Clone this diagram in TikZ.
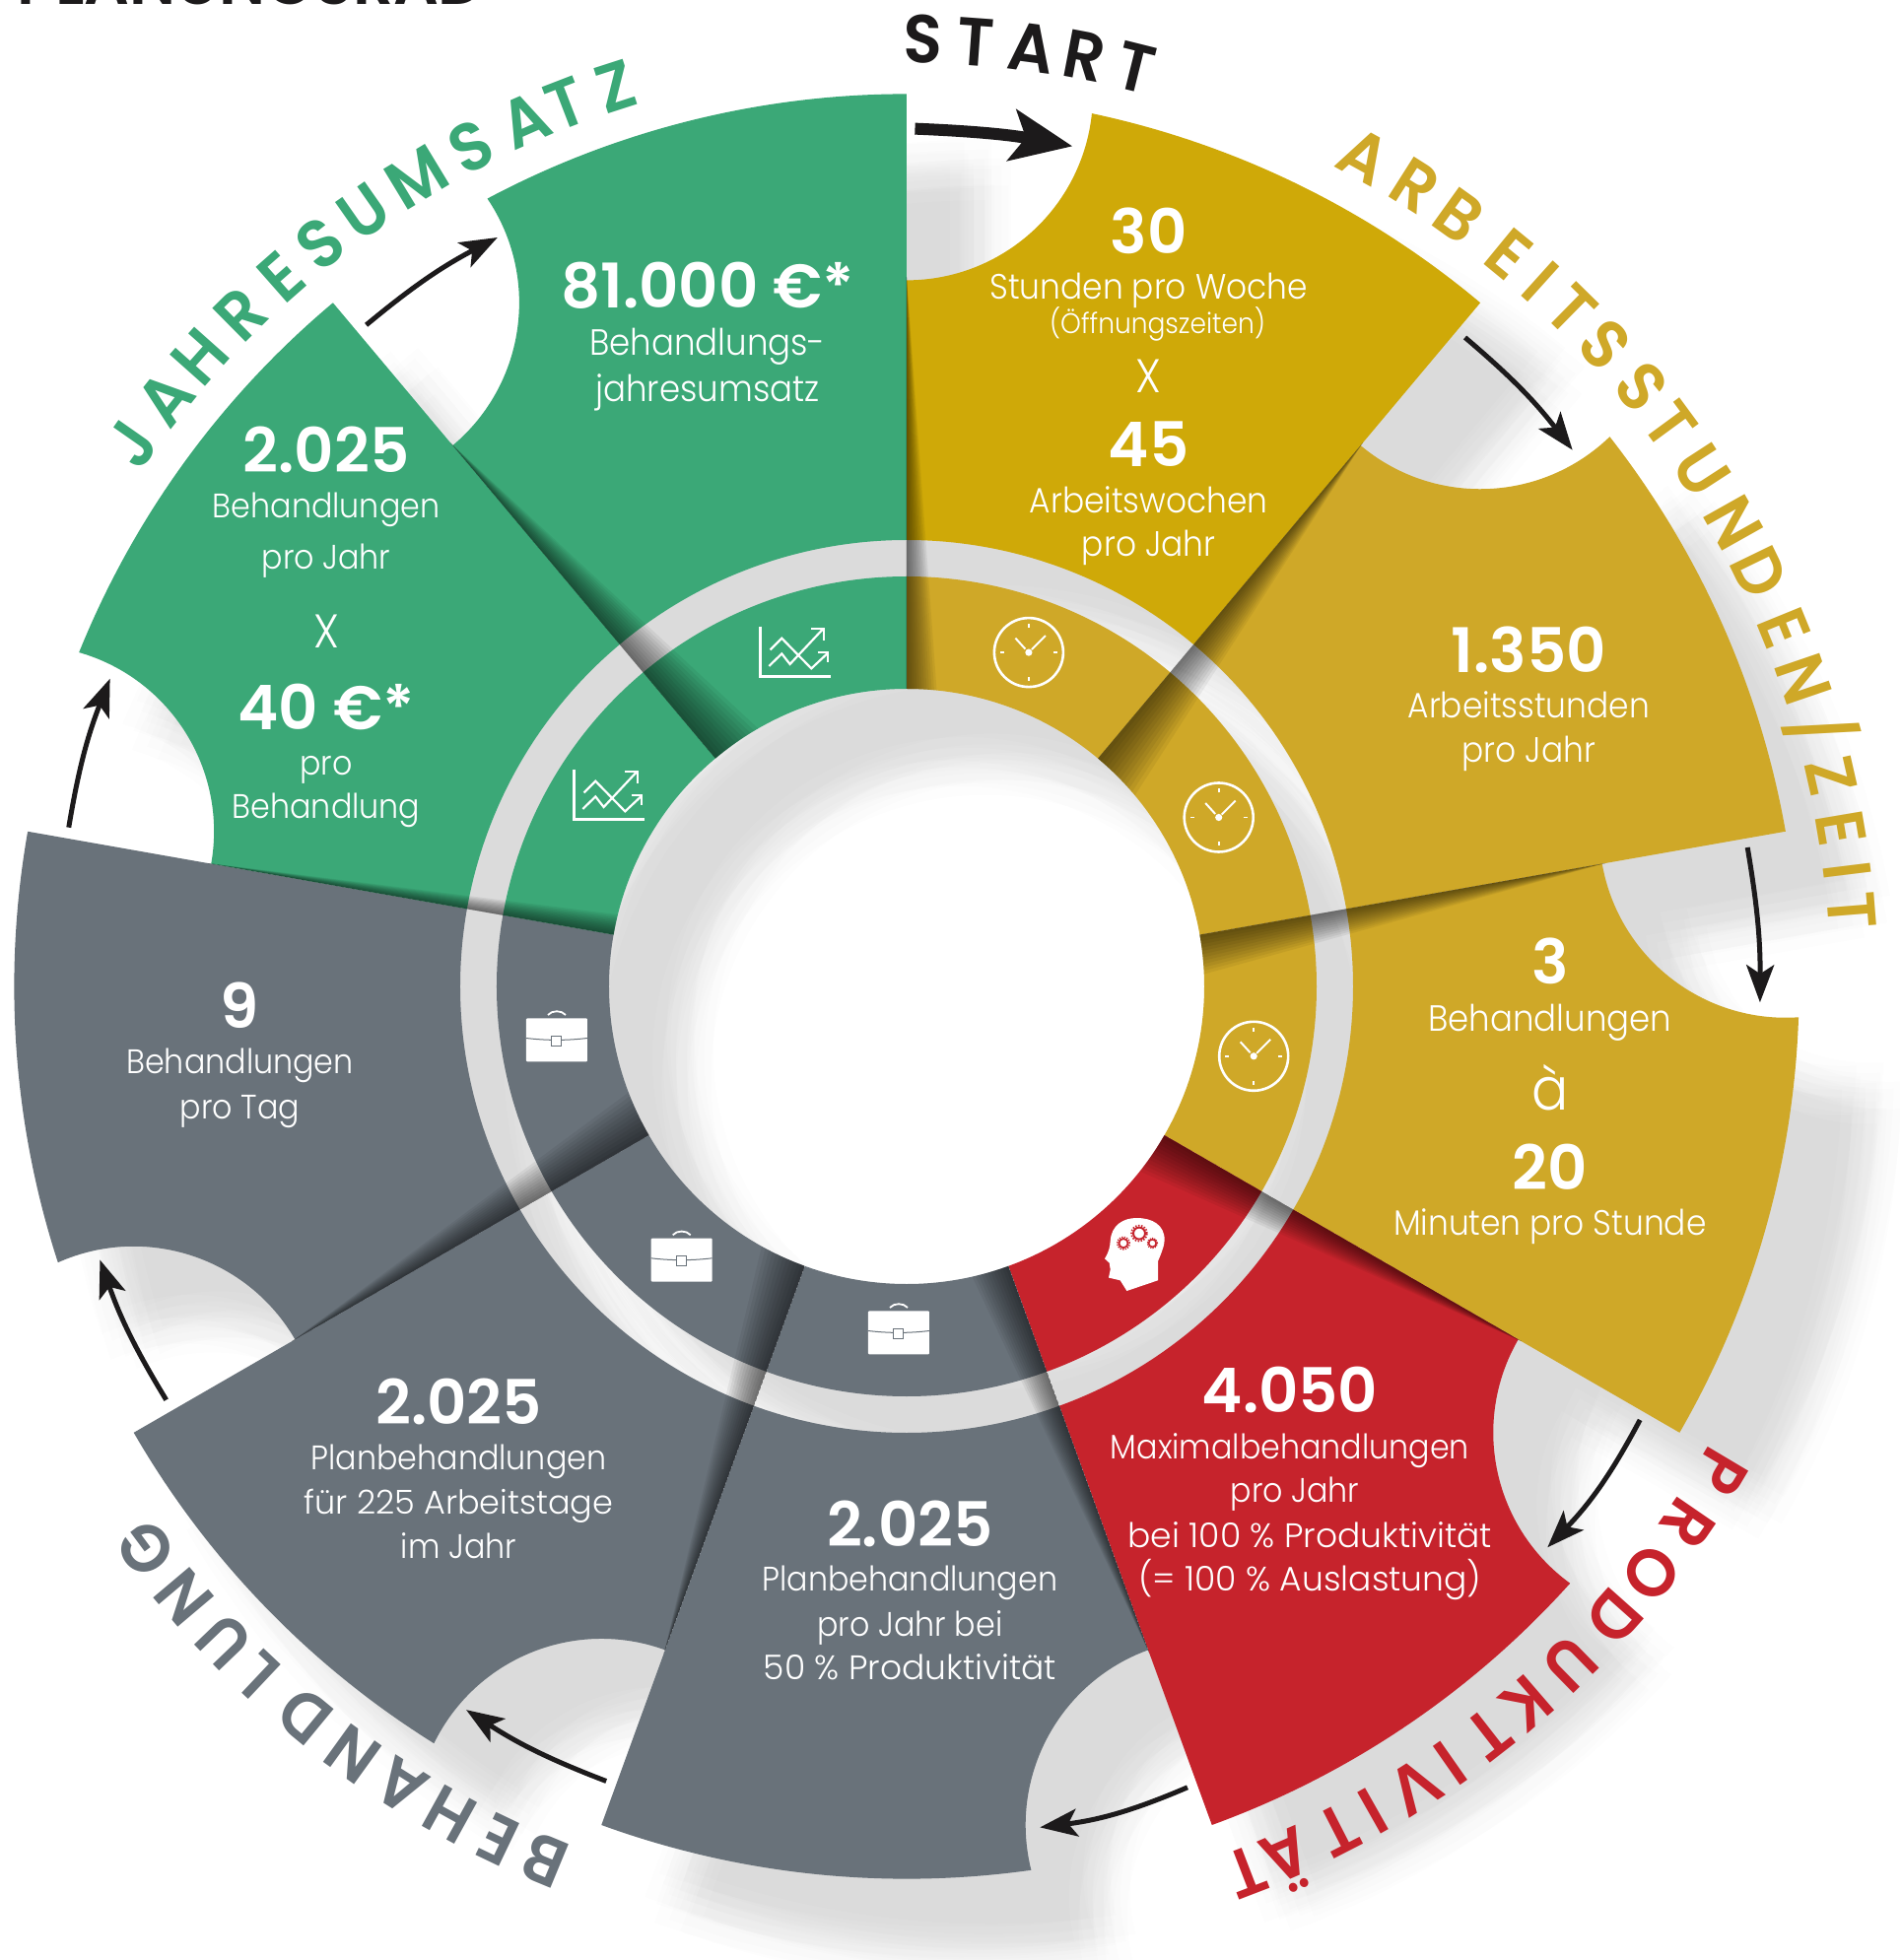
\documentclass[tikz,border=0pt]{standalone}
\usepackage{fontspec}
\usetikzlibrary{arrows.meta}
\newfontfamily\lightf[FakeStretch=0.92]{Poppins Light}
\newfontfamily\lightw{Poppins Light}
\newfontfamily\boldf{Poppins SemiBold}
\newfontfamily\arcf[FakeStretch=0.94]{Poppins SemiBold}
\definecolor{goldA}{HTML}{CFA908}
\definecolor{goldB}{HTML}{CFA828}
\definecolor{redS}{HTML}{C6232C}
\definecolor{greyS}{HTML}{69727A}
\definecolor{greenS}{HTML}{3BA877}
\definecolor{inkS}{HTML}{1C1A1B}
\newcommand\outerseg[1]{(#1:453) -- (#1:716.6) arc[start angle=#1+180,end angle=#1+270-5.99,radius=189] arc[start angle=#1-11.98,end angle=#1-40,radius=905.6] -- (#1-40:453) arc[start angle=#1-40,end angle=#1,radius=453] -- cycle}
\newcommand\innerseg[1]{(#1:302) -- (#1:416) arc[start angle=#1,end angle=#1-40,radius=416] -- (#1-40:302) arc[start angle=#1-40,end angle=#1,radius=302] -- cycle}
\newcommand\allsegs{\outerseg{90} \outerseg{50} \outerseg{10} \outerseg{-30} \outerseg{-70} \outerseg{-110} \outerseg{-150} \outerseg{170} \outerseg{130} \innerseg{90} \innerseg{50} \innerseg{10} \innerseg{-30} \innerseg{-70} \innerseg{-110} \innerseg{-150} \innerseg{170} \innerseg{130}}
\tikzset{
 px/.style={x=1.2684pt,y=-1.2684pt,shift={(-920pt,1001pt)}},
 wtext/.style={text=white,anchor=base,inner sep=0pt},
 num/.style={wtext,font=\boldf\fontsize{62.5}{62.5}\selectfont},
 lbl/.style={wtext,font=\lightf\fontsize{34.5}{34.5}\selectfont},
 lblm/.style={wtext,font=\lightf\fontsize{35.7}{35.7}\selectfont},
 lbll/.style={wtext,font=\lightf\fontsize{37}{37}\selectfont},
 lblw/.style={wtext,font=\lightw\fontsize{34.5}{34.5}\selectfont},
 lbln/.style={wtext,font=\lightw\fontsize{33.5}{33.5}\selectfont},
 small/.style={wtext,font=\lightf\fontsize{28.8}{28.8}\selectfont},
 big/.style={wtext,font=\lightf\fontsize{48}{48}\selectfont},
 bigger/.style={wtext,font=\lightf\fontsize{60}{60}\selectfont},
 arclbl/.style={font=\arcf\fontsize{69}{69}\selectfont,inner sep=0pt,text height=48pt,text depth=0pt,anchor=center},
 flow/.style={draw=inkS,line width=5pt,-{Stealth[length=38pt,width=28pt,inset=9pt]}},
 startflow/.style={draw=inkS,line width=12pt,-{Stealth[length=62pt,width=52pt,inset=14pt]}},
 clockicon/.pic={
  \draw[white,line width=2.6pt] (0,0) circle[radius=35];
  \fill[white] (0,0) circle[radius=3.6];
  \draw[white,line width=2pt] (3,3)--(17,17) (-3.5,3.5)--(-13.5,14.5);
  \draw[white,line width=1.6pt] (0,25)--(0,29) (0,-25)--(0,-29) (25,0)--(29,0) (-25,0)--(-29,0);
 },
 charticon/.pic={
  \draw[white,line width=3pt] (-35.7,26)--(-35.7,-25)--(36,-25);
  \draw[white,line width=2.2pt] (-25.7,2.3)--(-14,14)--(16,-16.7)--(32,-1.7);
  \draw[white,line width=2.2pt] (22.7,0)--(32.7,0)--(32.7,-10);
  \draw[white,line width=2.2pt] (-27,-14.3)--(-14,-1.7)--(-5.7,-12.3)--(27.7,23.3);
  \draw[white,line width=2.2pt] (16,23.3)--(28.7,23.3)--(28.7,11.7);
 },
 briefcon/.pic={
  \fill[white,rounded corners=1pt] (-31,-22.3) rectangle (31,21.7);
  \draw[white,line width=1.8pt] (-9,25) .. controls (-5,30) and (5,30) .. (9,25);
  \draw[greyS,line width=1pt] (-31,1.5) .. controls (-10,-1) and (10,-1) .. (31,1.5);
  \draw[greyS,fill=white,line width=1pt] (-5,-6) rectangle (5,3.5);
 },
 headicon/.pic={
  \fill[white] (-8.3,-36.7) -- (23.3,-26) -- (23.3,-6.7) .. controls (27,2) and (30,10) .. (30,15) .. controls (30,30) and (18,37.3) .. (1.7,37.3) .. controls (-12,37.3) and (-24,30) .. (-25,14) .. controls (-25.5,8) and (-26,4) .. (-30.7,-4) -- (-26,-8.3) -- (-25,-15) -- (-26.7,-23.3) -- (-15,-26) -- cycle;
  \draw[redS,line width=2pt] (4.3,21.7) circle[radius=6];
  \draw[redS,line width=1.6pt,dash pattern=on 1.5pt off 1.5pt] (4.3,21.7) circle[radius=8];
  \draw[redS,line width=1.8pt] (-11.7,11.7) circle[radius=4.6];
  \draw[redS,line width=1.4pt,dash pattern=on 1.3pt off 1.3pt] (-11.7,11.7) circle[radius=6.3];
  \draw[redS,line width=1.6pt] (17.7,11.7) circle[radius=3.8];
  \draw[redS,line width=1.2pt,dash pattern=on 1.2pt off 1.2pt] (17.7,11.7) circle[radius=5.2];
 },
}
\begin{document}
\begin{tikzpicture}[x=1pt,y=1pt]
\useasboundingbox (-920,-988) rectangle (1008,1001);
\clip (-920,-988) rectangle (1008,1001);
\fill[white] (-920,-988) rectangle (1008,1001);
% cropped title at the page top
\node[font=\boldf\fontsize{64}{64}\selectfont,text=inkS,anchor=base west,inner sep=0pt] (title) at (-903,996) {PLANUNGSRAD};
% soft cast shadow of the whole wheel
\foreach \r/\n/\o in {10/5/0,21/6/10,32/7/20}{
 \foreach \k in {1,...,\n}{
  \begin{scope}[shift={({76+\r*cos(\o+360*\k/\n)},{-76+\r*sin(\o+360*\k/\n)})}]
   \fill[black,fill opacity=.0072] \allsegs;
  \end{scope}
 }
}
% segments
\foreach \a/\c/\d in {90/goldA/goldB,50/goldB/goldB,10/goldB/goldB,-30/redS/redS,-70/greyS/greyS,-110/greyS/greyS,-150/greyS/greyS,170/greenS/greenS,130/greenS/greenS}{
 \fill[\c] \outerseg{\a};
 \fill[\d] \innerseg{\a};
}
% pinwheel shadow bands on the clockwise neighbour
\foreach \th/\w in {90/32,50/55,10/42,-30/46,-70/40,-110/50,-150/50,170/22,130/55}{
 \begin{scope}[rotate=\th]
  \clip (0:302) -- (0:720) -- (-40:720) -- (-40:302) arc[start angle=-40,end angle=0,radius=302] -- cycle;
  \foreach \i in {1,...,12}{
   \fill[black,fill opacity=.055] (280,0) -- (720,0) -- (280,{-\w*\i/12}) -- cycle;
  }
 \end{scope}
}
% icons
\pic (clockA) at (123.9,338.9) {clockicon};
\pic (clockB) at (316.7,171.5) {clockicon};
\pic (clockC) at (352.2,-70.8) {clockicon};
\pic (chartA) at (-112.7,339.3) {charticon};
\pic (chartB) at (-301.7,194.3) {charticon};
\pic (briefA) at (-355,-54) {briefcon};
\pic (briefB) at (-228.3,-277.3) {briefcon};
\pic (briefC) at (-8,-351) {briefcon};
\pic (headA) at (231.7,-272.3) {headicon};
% ring labels
\foreach \c/\a [count=\i] in {S/89,T/85.8,A/82.4,R/79.2,T/76}{
 \node[arclbl,text=inkS,rotate=\a-90] (st\i) at (\a:961) {\c};
}
\foreach \c/\a [count=\i] in {A/61.1,R/57.6,B/54.4,E/50.6,I/48,T/45.5,S/42.6,S/39.2,T/36.3,U/33,N/29.3,D/25.9,E/22.2,N/18.9,{/}/15.7,Z/12.8,E/9.6,I/7,T/4.6}{
 \node[arclbl,text=goldB,rotate=\a-90] (ar\i) at (\a:962) {\c};
}
\foreach \c/\a [count=\i] in {P/-30.8,R/-34.5,O/-38.2,D/-41.7,U/-45.6,K/-49.2,T/-52.1,I/-55,V/-57.6,I/-60.5,T/-62.9,Ä/-66.4,T/-69}{
 \node[arclbl,text=redS,rotate=\a-90] (pr\i) at (\a:962) {\c};
}
\foreach \c/\a [count=\i] in {B/-112.5,E/-115.6,H/-118.9,A/-122.3,N/-125.8,D/-129.5,L/-133.3,U/-136.2,N/-139.8,G/-143.5}{
 \node[arclbl,text=greyS,rotate=\a-90] (be\i) at (\a:960) {\c};
}
\foreach \c/\a [count=\i] in {J/145,A/141.6,H/138.3,R/134.7,E/131.4,S/128.3,U/125,M/121.2,S/117.4,A/113.8,T/111.1,Z/107.9}{
 \node[arclbl,text=greenS,rotate=\a-90] (ja\i) at (\a:960) {\c};
}
\begin{scope}[px]
% gold 1
\node[num] (a1) at (919,203) {30};
\node[lblm] (a2) at (919,239) {Stunden pro Woche};
\node[small] (a3) at (926,267) {(Öffnungszeiten)};
\node[big] (a4) at (919,314) {X};
\node[num] (a5) at (919,373) {45};
\node[lblm] (a6) at (919,410) {Arbeitswochen};
\node[lblm] (a7) at (919,445) {pro Jahr};
% gold 2
\node[num] (b1) at (1223,538) {1.350};
\node[lblm] (b2) at (1223,574) {Arbeitsstunden};
\node[lblm] (b3) at (1223,610) {pro Jahr};
% gold 3
\node[num] (c1) at (1240,787) {3};
\node[lbll] (c2) at (1240,825) {Behandlungen};
\node[bigger] (c3) at (1240,888) {à};
\node[num] (c4) at (1240,952) {20};
\node[lblm] (c5) at (1240,988) {Minuten pro Stunde};
% red
\node[num] (d1) at (1032,1130) {4.050};
\node[lbl] (d2) at (1032,1167) {Maximalbehandlungen};
\node[lbl] (d3) at (1036,1202) {pro Jahr};
\node[lblw] (d4) at (1048,1238) {bei 100 \% Produktivität};
\node[lblw] (d5) at (1048,1273) {(= 100 \% Auslastung)};
% grey 1
\node[num] (e1) at (728,1237) {2.025};
\node[lbl] (e2) at (728,1273) {Planbehandlungen};
\node[lbl] (e3) at (728,1309) {pro Jahr bei};
\node[lblw] (e4) at (728,1344) {50 \% Produktivität};
% grey 2
\node[num] (f1) at (367,1140) {2.025};
\node[lbl] (f2) at (367,1176) {Planbehandlungen};
\node[lbln] (f3) at (367,1211) {für 225 Arbeitstage};
\node[lbl] (f4) at (367,1247) {im Jahr};
% grey 3
\node[num] (g1) at (192,823) {9};
\node[lbl] (g2) at (192,859) {Behandlungen};
\node[lbl] (g3) at (192,895) {pro Tag};
% green 2
\node[num] (h1) at (261,378) {2.025};
\node[lbl] (h2) at (261,414) {Behandlungen};
\node[lbl] (h3) at (261,455) {pro Jahr};
\node[big] (h4) at (261,518) {X};
\node[num] (h5) at (261,584) {40 €*};
\node[lbl] (h6) at (261,620) {pro};
\node[lbl] (h7) at (261,655) {Behandlung};
% green 1
\node[num] (i1) at (566,246) {81.000 €*};
\node[lbll] (i2) at (566,284) {Behandlungs-};
\node[lbll] (i3) at (566,321) {jahresumsatz};
% connector ends
\coordinate (s0) at (732,103);
\coordinate (s1) at (858,117);
\coordinate (p1) at (1172,270);
\coordinate (q1) at (1258,360);
\coordinate (p2) at (1398,678);
\coordinate (q2) at (1408,802);
\coordinate (p3) at (1312,1136);
\coordinate (q3) at (1238,1238);
\coordinate (p4) at (950,1430);
\coordinate (q4) at (832,1462);
\coordinate (p5) at (485,1425);
\coordinate (q5) at (373,1368);
\coordinate (p6) at (133,1120);
\coordinate (q6) at (80,1008);
\coordinate (p7) at (55,662);
\coordinate (q7) at (88,543);
\coordinate (p8) at (293,260);
\coordinate (q8) at (398,190);
\draw[startflow] (s0) to[bend left=4] (s1);
\draw[flow] (p1) to[bend left=6] (q1);
\draw[flow] (p2) to[bend left=5] (q2);
\draw[flow] (p3) to[bend left=8] (q3);
\draw[flow] (p4) to[bend left=8] (q4);
\draw[flow] (p5) to[bend left=6] (q5);
\draw[flow] (p6) to[bend left=6] (q6);
\draw[flow] (p7) to[bend left=6] (q7);
\draw[flow] (p8) to[bend left=6] (q8);
\end{scope}
\end{tikzpicture}
\end{document}
